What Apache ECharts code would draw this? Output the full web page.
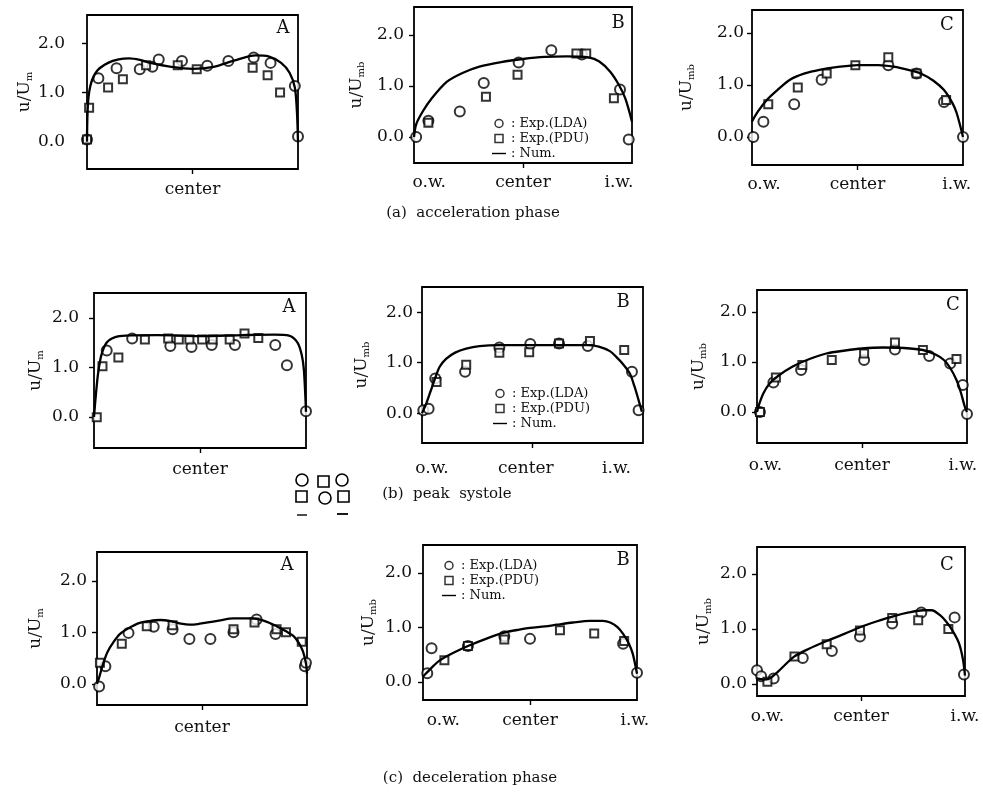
<!DOCTYPE html>
<html>
<head>
<meta charset="utf-8">
<script src="https://cdn.jsdelivr.net/npm/echarts@6/dist/echarts.min.js"></script>
<style>
  html, body { margin: 0; padding: 0; background: #fff; }
  #chart { width: 983px; height: 795px; }
</style>
</head>
<body>
<div id="chart"></div>
<script>
// x: 0 = outer wall (o.w.), 0.5 = center, 1 = inner wall (i.w.)
const yTicks = [0, 1, 2]
const seriesNames = ['Exp.(LDA)', 'Exp.(PDU)', 'Num.']

// (a) acceleration phase
const aA_lda = [[0, 0.05], [0.054, 1.29], [0.14, 1.49], [0.25, 1.47], [0.31, 1.52], [0.34, 1.67], [0.45, 1.64], [0.57, 1.54], [0.67, 1.64], [0.79, 1.71], [0.87, 1.6], [0.985, 1.13], [1, 0.11]]
const aA_pdu = [[0, 0.05], [0.01, 0.69], [0.1, 1.1], [0.17, 1.27], [0.28, 1.55], [0.43, 1.55], [0.52, 1.47], [0.785, 1.5], [0.856, 1.35], [0.915, 1.0]]
const aA_num = [[0, 0], [0.005, 0.8], [0.02, 1.2], [0.05, 1.45], [0.1, 1.6], [0.15, 1.67], [0.2, 1.69], [0.25, 1.66], [0.3, 1.6], [0.4, 1.52], [0.5, 1.48], [0.6, 1.52], [0.7, 1.65], [0.8, 1.75], [0.86, 1.73], [0.92, 1.6], [0.96, 1.4], [0.985, 1.1], [0.995, 0.6], [1, 0]]

const aB_lda = [[0.01, 0], [0.066, 0.32], [0.21, 0.5], [0.32, 1.06], [0.48, 1.46], [0.63, 1.7], [0.77, 1.62], [0.945, 0.93], [0.985, -0.05]]
const aB_pdu = [[0.066, 0.28], [0.33, 0.79], [0.475, 1.22], [0.745, 1.64], [0.79, 1.64], [0.917, 0.76]]
const aB_num = [[0, 0], [0.01, 0.25], [0.04, 0.5], [0.08, 0.75], [0.15, 1.08], [0.22, 1.25], [0.3, 1.38], [0.4, 1.47], [0.5, 1.53], [0.6, 1.57], [0.7, 1.58], [0.8, 1.56], [0.85, 1.48], [0.9, 1.28], [0.94, 1.02], [0.97, 0.75], [1, 0.3]]

const aC_lda = [[0.006, 0], [0.054, 0.29], [0.2, 0.63], [0.33, 1.1], [0.646, 1.38], [0.78, 1.22], [0.91, 0.67], [1, 0]]
const aC_pdu = [[0.077, 0.63], [0.217, 0.95], [0.354, 1.22], [0.49, 1.38], [0.646, 1.53], [0.78, 1.22], [0.92, 0.71]]
const aC_num = [[0, 0.3], [0.03, 0.5], [0.07, 0.71], [0.12, 0.9], [0.18, 1.1], [0.25, 1.22], [0.32, 1.29], [0.4, 1.34], [0.5, 1.38], [0.6, 1.38], [0.67, 1.35], [0.75, 1.28], [0.8, 1.22], [0.86, 1.08], [0.91, 0.9], [0.95, 0.65], [0.97, 0.46], [1, 0]]

// (b) peak systole
const bA_lda = [[0.06, 1.34], [0.18, 1.58], [0.36, 1.43], [0.46, 1.41], [0.555, 1.45], [0.665, 1.45], [0.855, 1.45], [0.91, 1.04], [1, 0.11]]
const bA_pdu = [[0.013, -0.01], [0.04, 1.02], [0.115, 1.2], [0.24, 1.56], [0.35, 1.58], [0.4, 1.56], [0.45, 1.56], [0.51, 1.56], [0.56, 1.56], [0.64, 1.56], [0.71, 1.68], [0.775, 1.59]]
const bA_num = [[0, 0], [0.01, 0.5], [0.02, 0.9], [0.035, 1.25], [0.06, 1.5], [0.1, 1.61], [0.15, 1.64], [0.3, 1.65], [0.5, 1.63], [0.7, 1.65], [0.85, 1.66], [0.92, 1.64], [0.96, 1.5], [0.98, 1.25], [0.99, 0.95], [1, 0.1]]

const bB_lda = [[0.006, 0.06], [0.03, 0.09], [0.06, 0.69], [0.195, 0.82], [0.35, 1.3], [0.49, 1.37], [0.62, 1.38], [0.75, 1.33], [0.95, 0.82], [0.98, 0.06]]
const bB_pdu = [[0.066, 0.62], [0.2, 0.96], [0.35, 1.2], [0.485, 1.21], [0.62, 1.38], [0.76, 1.43], [0.915, 1.25]]
const bB_num = [[0, 0], [0.02, 0.2], [0.04, 0.45], [0.06, 0.7], [0.08, 0.92], [0.11, 1.08], [0.15, 1.2], [0.2, 1.28], [0.26, 1.33], [0.35, 1.35], [0.5, 1.35], [0.65, 1.35], [0.75, 1.35], [0.8, 1.32], [0.85, 1.23], [0.88, 1.11], [0.91, 0.97], [0.94, 0.79], [0.96, 0.55], [0.98, 0.26], [0.995, 0.03]]

const bC_lda = [[0.014, 0], [0.078, 0.59], [0.21, 0.84], [0.51, 1.04], [0.657, 1.25], [0.82, 1.12], [0.92, 0.97], [0.98, 0.54], [1, -0.04]]
const bC_pdu = [[0.014, 0], [0.09, 0.69], [0.216, 0.94], [0.356, 1.04], [0.51, 1.17], [0.657, 1.39], [0.79, 1.24], [0.95, 1.06]]
const bC_num = [[0, 0], [0.01, 0.15], [0.03, 0.37], [0.06, 0.57], [0.1, 0.72], [0.17, 0.91], [0.25, 1.06], [0.33, 1.17], [0.42, 1.23], [0.5, 1.27], [0.6, 1.29], [0.7, 1.28], [0.79, 1.24], [0.85, 1.15], [0.89, 1.04], [0.92, 0.88], [0.95, 0.64], [0.97, 0.4], [0.99, 0.1], [1, 0]]

// (c) deceleration phase
const cA_lda = [[0.01, -0.05], [0.04, 0.34], [0.15, 0.99], [0.27, 1.11], [0.36, 1.06], [0.44, 0.87], [0.54, 0.87], [0.65, 1.0], [0.76, 1.25], [0.85, 0.97], [0.99, 0.34], [0.995, 0.41]]
const cA_pdu = [[0.014, 0.41], [0.118, 0.78], [0.237, 1.12], [0.36, 1.14], [0.65, 1.06], [0.75, 1.19], [0.855, 1.06], [0.9, 1.0], [0.975, 0.82]]
const cA_num = [[0, 0], [0.01, 0.12], [0.03, 0.4], [0.05, 0.62], [0.08, 0.82], [0.11, 0.97], [0.15, 1.08], [0.2, 1.18], [0.25, 1.22], [0.3, 1.24], [0.36, 1.21], [0.4, 1.17], [0.44, 1.15], [0.48, 1.16], [0.52, 1.19], [0.58, 1.23], [0.65, 1.27], [0.74, 1.27], [0.8, 1.22], [0.855, 1.12], [0.9, 1.02], [0.935, 0.93], [0.96, 0.8], [0.98, 0.64], [0.995, 0.4], [1, 0.2]]

const cB_lda = [[0.02, 0.16], [0.04, 0.62], [0.21, 0.66], [0.38, 0.84], [0.5, 0.79], [0.935, 0.7], [1, 0.17]]
const cB_pdu = [[0.1, 0.4], [0.21, 0.66], [0.38, 0.78], [0.64, 0.95], [0.8, 0.89], [0.94, 0.75]]
const cB_num = [[0, 0.1], [0.02, 0.18], [0.05, 0.3], [0.08, 0.4], [0.14, 0.53], [0.21, 0.66], [0.3, 0.8], [0.375, 0.9], [0.45, 0.96], [0.5, 0.99], [0.57, 1.02], [0.625, 1.05], [0.7, 1.09], [0.78, 1.12], [0.84, 1.12], [0.875, 1.09], [0.91, 1.0], [0.935, 0.88], [0.96, 0.72], [0.98, 0.52], [1, 0.15]]

const cC_lda = [[0, 0.25], [0.02, 0.14], [0.08, 0.1], [0.22, 0.47], [0.36, 0.6], [0.495, 0.86], [0.65, 1.1], [0.79, 1.3], [0.95, 1.21], [0.995, 0.17]]
const cC_pdu = [[0.05, 0.04], [0.18, 0.5], [0.335, 0.72], [0.495, 0.97], [0.65, 1.2], [0.775, 1.16], [0.92, 1.0]]
const cC_num = [[0, 0.1], [0.03, 0.08], [0.06, 0.1], [0.1, 0.22], [0.18, 0.5], [0.25, 0.64], [0.335, 0.78], [0.42, 0.91], [0.495, 1.03], [0.57, 1.13], [0.655, 1.23], [0.73, 1.3], [0.8, 1.34], [0.84, 1.34], [0.88, 1.25], [0.91, 1.13], [0.94, 0.97], [0.97, 0.75], [0.99, 0.45], [1, 0.15]]

// x tick label positions (o.w. / center / i.w.)
const labA = [0.5]
const aB_xlab = [0.07, 0.5, 0.94]
const aC_xlab = [0.057, 0.5, 0.97]
const bB_xlab = [0.045, 0.47, 0.88]
const bC_xlab = [0.04, 0.5, 0.98]
const cB_xlab = [0.095, 0.5, 0.99]
const cC_xlab = [0.05, 0.5, 1.0]

const FONT = 'DejaVu Serif'

const panels = [
  { box: [87, 15, 211, 154], ymin: -0.55, ymax: 2.57, sub: 'm', xlab: labA, lm: 22, ng: 50, xm: 12, d: [aA_lda, aA_pdu, aA_num] },
  { box: [414, 7, 218, 156], ymin: -0.51, ymax: 2.55, sub: 'mb', xlab: aB_xlab, lm: 10, ng: 48, xm: 11, d: [aB_lda, aB_pdu, aB_num] },
  { box: [752, 10, 211, 155], ymin: -0.54, ymax: 2.44, sub: 'mb', xlab: aC_xlab, lm: 8, ng: 56, xm: 11, d: [aC_lda, aC_pdu, aC_num] },
  { box: [94, 293, 212, 155], ymin: -0.63, ymax: 2.5, sub: 'm', xlab: labA, lm: 15, ng: 49, xm: 13, d: [bA_lda, bA_pdu, bA_num] },
  { box: [422, 287, 221, 156], ymin: -0.59, ymax: 2.5, sub: 'mb', xlab: bB_xlab, lm: 9, ng: 51, xm: 17, d: [bB_lda, bB_pdu, bB_num] },
  { box: [757, 290, 210, 153], ymin: -0.62, ymax: 2.44, sub: 'mb', xlab: bC_xlab, lm: 10, ng: 49, xm: 14, d: [bC_lda, bC_pdu, bC_num] },
  { box: [97, 552, 210, 153], ymin: -0.41, ymax: 2.56, sub: 'm', xlab: labA, lm: 10, ng: 52, xm: 14, d: [cA_lda, cA_pdu, cA_num] },
  { box: [423, 545, 214, 155], ymin: -0.33, ymax: 2.51, sub: 'mb', xlab: cB_xlab, lm: 11, ng: 45, xm: 12, d: [cB_lda, cB_pdu, cB_num] },
  { box: [757, 547, 208, 149], ymin: -0.22, ymax: 2.49, sub: 'mb', xlab: cC_xlab, lm: 10, ng: 44, xm: 12, d: [cC_lda, cC_pdu, cC_num] }
]

const letters = [['A', 283, 28], ['B', 618, 23], ['C', 947, 25], ['A', 289, 307], ['B', 623, 302], ['C', 953, 305], ['A', 287, 565], ['B', 623, 560], ['C', 947, 565]]
const captions = [['(a)  acceleration phase', 473, 213], ['(b)  peak  systole', 447, 494], ['(c)  deceleration phase', 470, 778]]

const grid = []
const xAxis = []
const yAxis = []
const series = []

panels.forEach((p, i) => {
  grid.push({
    left: p.box[0], top: p.box[1], width: p.box[2], height: p.box[3],
    show: true, borderColor: '#000', borderWidth: 1.8, backgroundColor: 'transparent'
  })
  xAxis.push({
    gridIndex: i, type: 'value', min: 0, max: 1, position: 'bottom',
    axisLine: { show: false, onZero: false },
    splitLine: { show: false },
    axisTick: { show: true, inside: false, customValues: [0.5], length: 5, lineStyle: { color: '#000', width: 1.4 } },
    axisLabel: {
      customValues: p.xlab, margin: p.xm, fontFamily: FONT, fontSize: 17, color: '#111',
      formatter: v => v < 0.3 ? 'o.w.' : (v > 0.7 ? 'i.w.' : 'center')
    }
  })
  yAxis.push({
    gridIndex: i, type: 'value', min: p.ymin, max: p.ymax,
    axisLine: { show: false, onZero: false },
    splitLine: { show: false },
    axisTick: { show: true, customValues: yTicks, length: 5, lineStyle: { color: '#000', width: 1.4 } },
    axisLabel: {
      customValues: yTicks, margin: p.lm, fontFamily: FONT, fontSize: 17, color: '#111',
      formatter: v => v.toFixed(1)
    },
    name: 'u/U{s|' + p.sub + '}',
    nameLocation: 'middle', nameRotate: 90, nameGap: p.ng,
    nameTextStyle: {
      fontFamily: FONT, fontSize: 17, color: '#111',
      rich: { s: { fontFamily: FONT, fontSize: 10, color: '#111', padding: [9, 0, 0, 0] } }
    }
  })
  series.push({
    name: seriesNames[0], type: 'scatter', xAxisIndex: i, yAxisIndex: i, clip: false,
    symbol: 'emptyCircle', symbolSize: 10, data: p.d[0],
    itemStyle: { color: '#000', borderColor: '#000', borderWidth: 1.7 }, z: 3
  })
  series.push({
    name: seriesNames[1], type: 'scatter', xAxisIndex: i, yAxisIndex: i, clip: false,
    symbol: 'emptyRect', symbolSize: 8, data: p.d[1],
    itemStyle: { color: '#000', borderColor: '#000', borderWidth: 1.5 }, z: 3
  })
  series.push({
    name: seriesNames[2], type: 'line', xAxisIndex: i, yAxisIndex: i, clip: false,
    symbol: 'none', smooth: 0.3, data: p.d[2],
    lineStyle: { color: '#000', width: 2.3 }, itemStyle: { color: '#000' }, z: 4
  })
})

const hollow = { color: '#fff', borderColor: '#000', borderWidth: 1.5 }
const legendBase = {
  orient: 'vertical', itemGap: 2, itemWidth: 14, itemHeight: 8, selectedMode: false,
  symbolKeepAspect: true,
  data: [
    { name: seriesNames[0], icon: 'circle', itemStyle: hollow },
    { name: seriesNames[1], icon: 'path://M0,0H10V10H0Z', itemStyle: hollow },
    { name: seriesNames[2], icon: 'path://M0,0H20V2H0Z', itemStyle: { color: '#000', borderWidth: 0 } }
  ],
  formatter: n => ': ' + n,
  textStyle: { fontFamily: FONT, fontSize: 13, color: '#111' }
}
const legend = [
  Object.assign({ left: 487, top: 112 }, legendBase),
  Object.assign({ left: 488, top: 382 }, legendBase),
  Object.assign({ left: 437, top: 554 }, legendBase)
]

const graphic = []
letters.forEach(([t, x, y]) => {
  graphic.push({ type: 'text', x, y, style: { text: t, fontFamily: FONT, fontSize: 18, fill: '#111', align: 'center', verticalAlign: 'middle' } })
})
captions.forEach(([t, x, y]) => {
  graphic.push({ type: 'text', x, y, style: { text: t, fontFamily: FONT, fontSize: 15, fill: '#111', align: 'center', verticalAlign: 'middle' } })
})
// small symbol key printed below panel (b) A
const keyStroke = { fill: '#fff', stroke: '#000', lineWidth: 1.6 }
graphic.push(
  { type: 'circle', shape: { cx: 302, cy: 480, r: 6 }, style: keyStroke },
  { type: 'rect', shape: { x: 318, y: 476, width: 11, height: 11 }, style: keyStroke },
  { type: 'circle', shape: { cx: 342, cy: 480, r: 6 }, style: keyStroke },
  { type: 'rect', shape: { x: 296, y: 491, width: 11, height: 11 }, style: keyStroke },
  { type: 'circle', shape: { cx: 325, cy: 498, r: 6 }, style: keyStroke },
  { type: 'rect', shape: { x: 338, y: 491, width: 11, height: 11 }, style: keyStroke },
  { type: 'line', shape: { x1: 297, y1: 515, x2: 307, y2: 515 }, style: { stroke: '#000', lineWidth: 1.4 } },
  { type: 'line', shape: { x1: 337, y1: 514, x2: 348, y2: 514 }, style: { stroke: '#000', lineWidth: 1.8 } }
)

const chart = echarts.init(document.getElementById('chart'))
chart.setOption({
  backgroundColor: '#fff',
  animation: false,
  grid, xAxis, yAxis, series, legend, graphic
})
</script>
</body>
</html>
